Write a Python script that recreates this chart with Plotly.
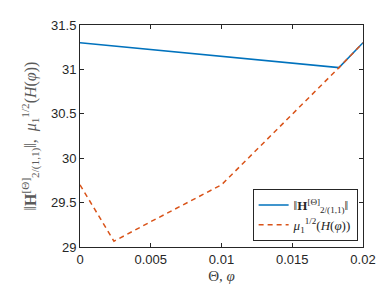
import plotly.graph_objects as go

# Data
theta_x = [0.0, 0.0183, 0.02]
norm_H = [31.30, 31.02, 31.30]

phi_x = [0.0, 0.0024, 0.005, 0.01, 0.0183, 0.02]
mu_half = [29.70, 29.065, 29.285, 29.70, 31.02, 31.30]

x_ticks = [0, 0.005, 0.01, 0.015, 0.02]
x_tick_labels = ["0", "0.005", "0.01", "0.015", "0.02"]
y_ticks = [29, 29.5, 30, 30.5, 31, 31.5]
y_tick_labels = ["29", "29.5", "30", "30.5", "31", "31.5"]

name_blue = "‖<b>H</b><sup>[Θ]</sup><sub>2/(1,1)</sub>‖"
name_red = "<i>μ</i><sub>1</sub><sup>1/2</sup>(<i>H</i>(<i>φ</i>))"

fig = go.Figure()
fig.add_trace(go.Scatter(x=theta_x, y=norm_H, mode="lines", name=name_blue,
                         line=dict(color="#0072BD", width=1.5)))
fig.add_trace(go.Scatter(x=phi_x, y=mu_half, mode="lines", name=name_red,
                         line=dict(color="#D95319", width=1.5, dash="5px,4px")))

axis_common = dict(showgrid=False, zeroline=False, showline=True, linecolor="#262626",
                   linewidth=1, mirror="ticks", ticks="inside", ticklen=4, automargin=False,
                   tickcolor="#262626", tickfont=dict(family="Arial, Liberation Sans", size=13, color="#262626"))

fig.update_xaxes(range=[0, 0.02], tickvals=x_ticks, ticktext=x_tick_labels,
                 title=dict(text="Θ, <i>φ</i>", font=dict(family="Liberation Serif, DejaVu Serif", size=15, color="#404040"), standoff=4),
                 **axis_common)
fig.update_yaxes(range=[29, 31.5], tickvals=y_ticks, ticktext=y_tick_labels,
                 title=dict(text="‖<b>H</b><sup>[Θ]</sup><sub>2/(1,1)</sub>‖,  <i>μ</i><sub>1</sub><sup>1/2</sup>(<i>H</i>(<i>φ</i>))",
                            font=dict(family="Liberation Serif, DejaVu Serif", size=16, color="#5a5a5a"), standoff=10),
                 **axis_common)

fig.update_layout(
    width=390, height=289,
    margin=dict(l=80, r=27, t=25, b=42),
    plot_bgcolor="white", paper_bgcolor="white",
    showlegend=True,
    legend=dict(x=0.981, y=0.027, xanchor="right", yanchor="bottom",
                bgcolor="white", bordercolor="#262626", borderwidth=1,
                font=dict(family="Liberation Serif, DejaVu Serif", size=13, color="#262626"),
                tracegroupgap=0, itemwidth=30),
)

fig.write_html("out.html", config={"displayModeBar": False},
               post_script="document.body.style.margin='0';document.body.style.overflow='hidden';")
